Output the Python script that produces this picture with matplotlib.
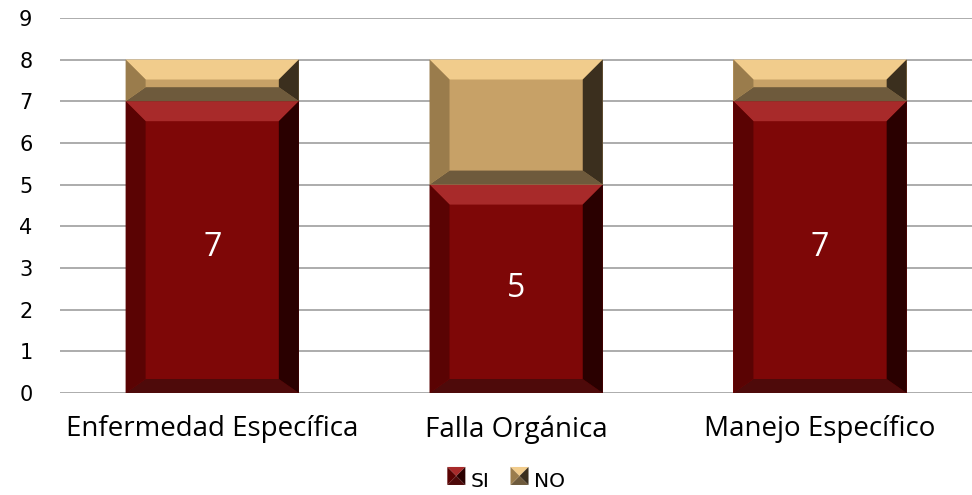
import matplotlib.pyplot as plt
from matplotlib.patches import Polygon, Patch
from matplotlib.legend_handler import HandlerBase
import numpy as np

categories = ['Enfermedad Específica', 'Falla Orgánica', 'Manejo Específico']
si_values = [7, 5, 7]
no_values = [1, 3, 1]

# colours: main, top, bottom, left, right
si_cols = ['#7e0707', '#a82a2a', '#4e0a0a', '#5a0303', '#2a0000']
no_cols = ['#c7a167', '#f1cc8c', '#6e5a3c', '#9a7c4c', '#3b2f1e']

fig = plt.figure(figsize=(9.72, 4.95), dpi=100)
ax = fig.add_axes([0.062, 0.206, 0.938, 0.758])
x = np.arange(len(categories))
width = 0.57
ax.set_xlim(-0.5, len(categories) - 0.5)
ax.set_ylim(0, 9)


def bevel_bar(xc, bottom, h, cols, bev_px=20, bot_px=14):
    # pixel size of one data unit
    px_x = ax.transData.transform((1, 0))[0] - ax.transData.transform((0, 0))[0]
    px_y = ax.transData.transform((0, 1))[1] - ax.transData.transform((0, 0))[1]
    dx = bev_px / px_x
    dyt = bev_px / px_y
    dyb = bot_px / px_y
    x0, x1 = xc - width / 2, xc + width / 2
    y0, y1 = bottom, bottom + h
    ax.bar(xc, h, width, bottom=bottom, color=cols[0], zorder=2)
    faces = [
        ([(x0, y1), (x1, y1), (x1 - dx, y1 - dyt), (x0 + dx, y1 - dyt)], cols[1]),
        ([(x0, y0), (x1, y0), (x1 - dx, y0 + dyb), (x0 + dx, y0 + dyb)], cols[2]),
        ([(x0, y0), (x0, y1), (x0 + dx, y1 - dyt), (x0 + dx, y0 + dyb)], cols[3]),
        ([(x1, y0), (x1, y1), (x1 - dx, y1 - dyt), (x1 - dx, y0 + dyb)], cols[4]),
    ]
    for pts, c in faces:
        ax.add_patch(Polygon(pts, closed=True, facecolor=c, edgecolor='none', zorder=3))


for i in range(len(categories)):
    bevel_bar(x[i], 0, si_values[i], si_cols)
    bevel_bar(x[i], si_values[i], no_values[i], no_cols)
    ax.text(x[i], si_values[i] / 2, str(si_values[i]), ha='center', va='center',
            color='white', fontsize=23, family='Open Sans', zorder=4)

ax.set_yticks(range(0, 10))
ax.grid(axis='y', color='#a6a6a6', linewidth=1.3, zorder=0)
ax.set_axisbelow(True)
for s in ax.spines.values():
    s.set_visible(False)
ax.tick_params(axis='both', length=0)
ax.tick_params(axis='y', pad=20, labelsize=15)
ax.set_xticks(x)
ax.set_xticklabels(categories, fontsize=20, family='Open Sans')
ax.tick_params(axis='x', pad=16)


class BevelHandler(HandlerBase):
    def __init__(self, cols):
        super().__init__()
        self.cols = cols

    def create_artists(self, legend, orig, xd, yd, w, h, fontsize, trans):
        s = min(w, h)
        x0, y0 = xd + (w - s) / 2, yd + (h - s) / 2
        cx, cy = x0 + s / 2, y0 + s / 2
        c = self.cols
        tris = [
            ([(x0, y0 + s), (x0 + s, y0 + s), (cx, cy)], c[1]),
            ([(x0, y0), (x0 + s, y0), (cx, cy)], c[2]),
            ([(x0, y0), (x0, y0 + s), (cx, cy)], c[3]),
            ([(x0 + s, y0), (x0 + s, y0 + s), (cx, cy)], c[4]),
        ]
        return [Polygon(p, closed=True, facecolor=col, edgecolor='none', transform=trans)
                for p, col in tris]


h_si = Patch(facecolor=si_cols[0])
h_no = Patch(facecolor=no_cols[0])
fig.legend([h_si, h_no], ['SI', 'NO'], loc='center', ncol=2, frameon=False,
           fontsize=14.5, bbox_to_anchor=(0.52, 0.028), handlelength=1.0,
           handleheight=1.0, handletextpad=0.2, columnspacing=1.0,
           borderpad=0, borderaxespad=0,
           handler_map={h_si: BevelHandler(si_cols), h_no: BevelHandler(no_cols)})

fig.savefig('out.png', dpi=100)
